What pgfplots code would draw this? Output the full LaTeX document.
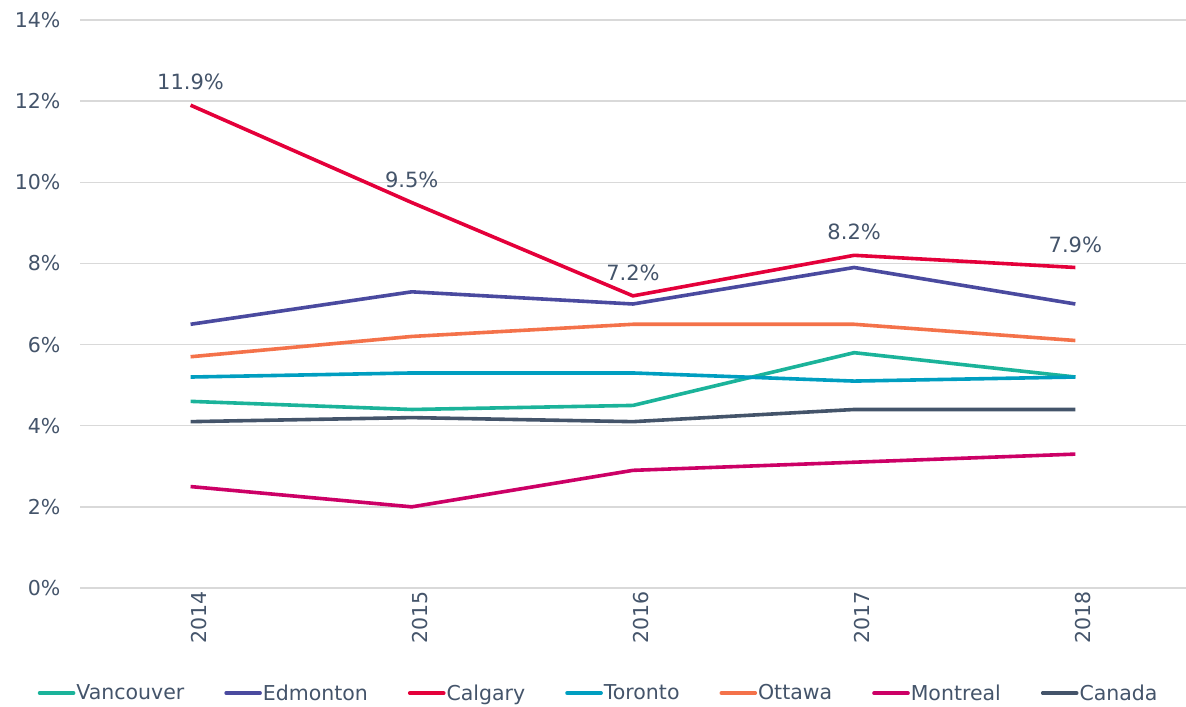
\documentclass[border=0pt]{standalone}
\usepackage{pgfplots}
\pgfplotsset{compat=1.18}
\usepackage{fontspec}
\setmainfont{DejaVu Sans}
\definecolor{txt}{HTML}{44546A}
\definecolor{cvan}{HTML}{1BB39A}
\definecolor{cedm}{HTML}{4A4A9F}
\definecolor{ccal}{HTML}{E4003A}
\definecolor{ctor}{HTML}{009EC0}
\definecolor{cott}{HTML}{F4724A}
\definecolor{cmon}{HTML}{CC0066}
\definecolor{ccan}{HTML}{44546A}
\definecolor{gridc}{HTML}{D9D9D9}
\tikzset{ser/.style={line width=3.6bp, line join=round}}
\begin{document}
\begin{tikzpicture}
\useasboundingbox (0,0) rectangle (1186bp,707bp);
\begin{axis}[
  at={(80bp,119bp)}, anchor=south west,
  scale only axis, width=1106bp, height=568bp,
  xmin=-0.5, xmax=4.5, ymin=0, ymax=14,
  xtick={0,1,2,3,4}, xticklabels={2014,2015,2016,2017,2018},
  ytick={0,2,4,6,8,10,12,14},
  yticklabel={\pgfmathprintnumber{\tick}\%},
  /pgf/number format/assume math mode=true,
  xmajorgrids=false, ymajorgrids=true,
  y grid style={draw=gridc, line width=1.3bp},
  axis line style={draw=none},
  major tick length=0pt,
  tick label style={font=\fontsize{20.5bp}{23bp}\selectfont, text=txt},
  xticklabel style={rotate=90, anchor=east},
  yticklabel style={xshift=-16bp},
  every x tick label/.append style={yshift=-8bp},
  legend style={at={(0.4685,-0.185)}, anchor=center, draw=none, fill=none,
    font=\fontsize{20.5bp}{23bp}\selectfont, text=txt,
    /tikz/every odd column/.append style={column sep=0bp},
    /tikz/every even column/.append style={column sep=39bp},
    nodes={inner xsep=1pt}},
  legend columns=-1,
  legend image code/.code={\draw[#1, line width=3.6bp, line cap=round] (0bp,0bp) -- (34bp,0bp);},
  legend cell align=left,
]
\addplot[cvan, ser] coordinates {(0,4.6) (1,4.4) (2,4.5) (3,5.8) (4,5.2)};
\addlegendentry{Vancouver}
\addplot[cedm, ser] coordinates {(0,6.5) (1,7.3) (2,7.0) (3,7.9) (4,7.0)};
\addlegendentry{Edmonton}
\addplot[ccal, ser, nodes near coords={\pgfmathprintnumber[fixed,precision=1,fixed zerofill]{\pgfplotspointmeta}\%},
  nodes near coords style={font=\fontsize{21bp}{23bp}\selectfont, text=txt, anchor=south, yshift=10bp}]
  coordinates {(0,11.9) (1,9.5) (2,7.2) (3,8.2) (4,7.9)};
\addlegendentry{Calgary}
\addplot[ctor, ser] coordinates {(0,5.2) (1,5.3) (2,5.3) (3,5.1) (4,5.2)};
\addlegendentry{Toronto}
\addplot[cott, ser] coordinates {(0,5.7) (1,6.2) (2,6.5) (3,6.5) (4,6.1)};
\addlegendentry{Ottawa}
\addplot[cmon, ser] coordinates {(0,2.5) (1,2.0) (2,2.9) (3,3.1) (4,3.3)};
\addlegendentry{Montreal}
\addplot[ccan, ser] coordinates {(0,4.1) (1,4.2) (2,4.1) (3,4.4) (4,4.4)};
\addlegendentry{Canada}
\end{axis}
\end{tikzpicture}
\end{document}
